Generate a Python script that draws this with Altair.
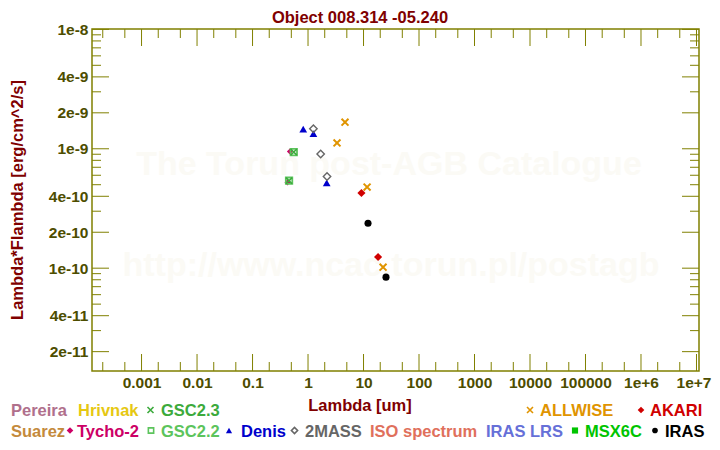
import altair as alt
import pandas as pd

# ---------------- data ----------------
denis_lam = [0.82, 1.25, 2.17]
denis_flux = [1.46e-9, 1.34e-9, 5.19e-10]
mass_lam = [1.25, 1.69, 2.20]
mass_flux = [1.47e-9, 9.03e-10, 5.86e-10]
allwise_lam = [3.33, 4.64, 11.6, 22.5]
allwise_flux = [1.12e-9, 1.67e-9, 4.78e-10, 1.02e-10]
tycho_lam = [0.425, 0.47]
tycho_flux = [5.22e-10, 9.49e-10]
gsc22_lam = [0.455, 0.553]
gsc22_flux = [5.40e-10, 9.38e-10]
gsc23_lam = [0.455, 0.553]
gsc23_flux = [5.40e-10, 9.38e-10]
akari_lam = [9.17, 18.3]
akari_flux = [4.26e-10, 1.24e-10]
iras_lam = [12.05, 25.4]
iras_flux = [2.38e-10, 8.41e-11]

x_major = [1e-3, 1e-2, 0.1, 1, 10, 100, 1e3, 1e4, 1e5, 1e6, 1e7]
x_minor = [2e-4, 5e-4, 2e-3, 5e-3, 2e-2, 5e-2, 0.2, 0.5, 2, 5, 20, 50,
           200, 500, 2e3, 5e3, 2e4, 5e4, 2e5, 5e5, 2e6, 5e6]
y_major = [2e-11, 4e-11, 1e-10, 2e-10, 4e-10, 1e-9, 2e-9, 4e-9, 1e-8]
y_minor = [3e-11, 5e-11, 6e-11, 7e-11, 8e-11, 9e-11,
           3e-10, 5e-10, 6e-10, 7e-10, 8e-10, 9e-10,
           3e-9, 5e-9, 6e-9, 7e-9, 8e-9, 9e-9]

title_text = "Object 008.314 -05.240"
x_title = "Lambda [um]"
y_title = "Lambda*Flambda [erg/cm^2/s]"
watermarks = ["The Torun post-AGB Catalogue", "http://www.ncac.torun.pl/postagb"]

# legend: label, colour, symbol
legend_row1 = [("Pereira", "#b0708c", None), ("Hrivnak", "#e6c812", None),
               ("GSC2.3", "#3caa3c", "x"), ("ALLWISE", "#e09400", "x"),
               ("AKARI", "#d00000", "diamond")]
legend_row2 = [("Suarez", "#c48a3c", None), ("Tycho-2", "#cc0066", "diamond"),
               ("GSC2.2", "#5cc45c", "square-open"), ("Denis", "#0000cc", "triangle-up"),
               ("2MASS", "#666666", "diamond-open"), ("ISO spectrum", "#e0705c", None),
               ("IRAS LRS", "#6670d8", None), ("MSX6C", "#00c400", "square"),
               ("IRAS", "#000000", "circle")]

# ---------------- layout ----------------
W, H = 607, 342
FONT = "Liberation Sans"
AXC = "#808000"
LBC = "#4d4d00"
DARKRED = "#800000"
XPATH = "M-1,-1L1,1M-1,1L1,-1"

xscale = alt.Scale(type="log", domain=[1.28e-4, 1.11e7], nice=False)
yscale = alt.Scale(type="log", domain=[1.377e-11, 1.007e-8], nice=False)
xaxis = alt.Axis(values=x_major, title=None, ticks=False, tickSize=0,
                 labelExpr="datum.value >= 1e6 ? format(datum.value, '.0e') : format(datum.value, '~g')",
                 labelOffset={"condition": {"test": "datum.value >= 5000000", "value": -3}, "value": 0},
                 domain=False, grid=False, labelPadding=4, labelFont=FONT,
                 labelFontSize=15.5, labelFontWeight="bold", labelColor=LBC,
                 labelOverlap=False, labelFlush=False)
yaxis = alt.Axis(values=y_major, format=".0e", title=None, ticks=False, tickSize=0,
                 domain=False, grid=False, labelPadding=4, labelFont=FONT,
                 labelFontSize=15.5, labelFontWeight="bold", labelColor=LBC,
                 labelOverlap=False, labelFlush=False)


def X(f):
    return alt.X(f"{f}:Q", scale=xscale, axis=xaxis)


def Y(f):
    return alt.Y(f"{f}:Q", scale=yscale, axis=yaxis)


layers = []

# watermarks
for txt, (cx, by) in zip(watermarks, [(297, 146), (299, 247)]):
    layers.append(alt.Chart(pd.DataFrame({"t": [txt]})).mark_text(
        font=FONT, fontSize=34, fontWeight="bold", color="#fbfaf5",
        align="center", baseline="alphabetic").encode(
        x=alt.value(cx), y=alt.value(by), text="t:N"))

# ticks (inside, all four sides)
def xticks(vals, ln):
    d = pd.DataFrame({"v": vals})
    bot = alt.Chart(d).mark_rule(color=AXC, strokeWidth=1).encode(
        x=X("v"), y=alt.value(H), y2=alt.value(H - ln))
    top = alt.Chart(d).mark_rule(color=AXC, strokeWidth=1).encode(
        x=X("v"), y=alt.value(0), y2=alt.value(ln))
    return [bot, top]


def yticks(vals, ln):
    d = pd.DataFrame({"v": vals})
    left = alt.Chart(d).mark_rule(color=AXC, strokeWidth=1).encode(
        y=Y("v"), x=alt.value(0), x2=alt.value(ln))
    right = alt.Chart(d).mark_rule(color=AXC, strokeWidth=1).encode(
        y=Y("v"), x=alt.value(W), x2=alt.value(W - ln))
    return [left, right]


layers += xticks(x_major, 17) + xticks(x_minor, 9)
layers += yticks(y_major, 17) + yticks(y_minor, 9)


def pts(lam, flux, shape, color, size, filled, sw=1.5):
    d = pd.DataFrame({"lam": lam, "flux": flux})
    kw = dict(shape=shape, size=size, filled=filled, opacity=1)
    if filled:
        kw.update(fill=color, strokeWidth=0)
    else:
        kw.update(stroke=color, strokeWidth=sw)
    return alt.Chart(d).mark_point(**kw).encode(x=X("lam"), y=Y("flux"))


layers.append(pts(tycho_lam, tycho_flux, "diamond", "#cc0066", 34, True))
layers.append(pts(gsc22_lam, gsc22_flux, "square", "#5cc45c", 42, False, 1.8))
layers.append(pts(gsc23_lam, gsc23_flux, XPATH, "#3caa3c", 38, False, 1.6))
layers.append(pts(denis_lam, denis_flux, "triangle-up", "#0000cc", 60, True))
layers.append(pts(mass_lam, mass_flux, "diamond", "#666666", 55, False, 1.4))
layers.append(pts(allwise_lam, allwise_flux, XPATH, "#e09400", 48, False, 2))
layers.append(pts(akari_lam, akari_flux, "diamond", "#d00000", 66, True))
layers.append(pts(iras_lam, iras_flux, "circle", "#000000", 50, True))


def label(txt, x, y, color, size=16.5, align="center", angle=0):
    kw = dict(font=FONT, fontSize=size, fontWeight="bold", color=color,
              align=align, baseline="alphabetic")
    if angle:
        kw["angle"] = angle
    return alt.Chart(pd.DataFrame({"t": [txt]})).mark_text(**kw).encode(
        x=alt.value(x), y=alt.value(y), text="t:N")


layers.append(label(title_text, 268, -6, DARKRED))
layers.append(label(x_title, 268, 382, DARKRED))
layers.append(label(y_title, -69, 171, DARKRED, angle=270))

# legend
sym_map = {"x": (XPATH, False, 36), "diamond": ("diamond", True, 44),
           "square-open": ("square", False, 28), "triangle-up": ("triangle-up", True, 38),
           "diamond-open": ("diamond", False, 38), "square": ("square", True, 38),
           "circle": ("circle", True, 32)}
row1_text_x = [-81, -14, 69, 448, 558]
row1_sym_x = [None, None, 58.5, 438, 549]
row2_text_x = [-81, -15, 69, 149, 213, 278, 394, 493, 573]
row2_sym_x = [None, -22, 59, 137, 202.5, None, None, 483, 563]

for items, tx, sx, ty, sy in [(legend_row1, row1_text_x, row1_sym_x, 386.7, 381),
                              (legend_row2, row2_text_x, row2_sym_x, 407.5, 401.5)]:
    for (name, col, sym), xt, xs in zip(items, tx, sx):
        layers.append(label(name, xt, ty, col, size=16.5, align="left"))
        if sym:
            shp, filled, sz = sym_map[sym]
            kw = dict(shape=shp, size=sz, filled=filled, opacity=1)
            if filled:
                kw.update(fill=col, strokeWidth=0)
            else:
                kw.update(stroke=col, strokeWidth=1.6)
            layers.append(alt.Chart(pd.DataFrame({"t": [name]})).mark_point(**kw).encode(
                x=alt.value(xs), y=alt.value(sy)))

chart = alt.layer(*layers).properties(
    width=W, height=H,
    autosize=alt.AutoSizeParams(type="none"),
    padding={"left": 84, "top": 21, "right": 13, "bottom": 70},
    background="white",
).configure_view(stroke=AXC, strokeWidth=1.5)

chart.save("out.html", embed_options={"renderer": "svg", "actions": False})
